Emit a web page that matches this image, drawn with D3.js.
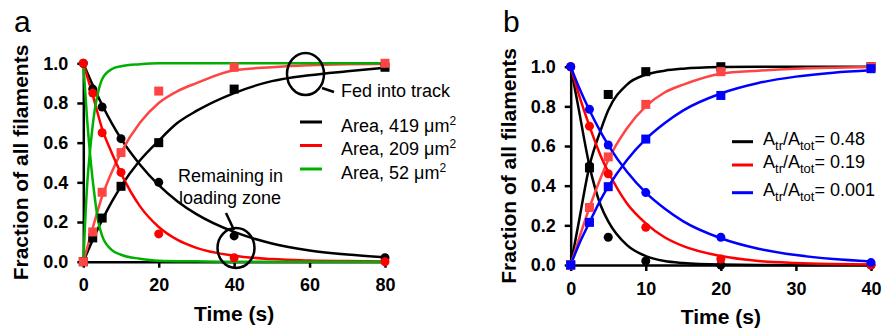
<!DOCTYPE html>
<html>
<head>
<meta charset="utf-8">
<script src="https://cdn.jsdelivr.net/npm/d3@7"></script>
<style>
  body { margin: 0; background: #fff; }
  svg { display: block; font-family: Arial, "Liberation Sans", sans-serif; }
  .axis path, .axis line { stroke: #000; stroke-width: 2.5px; }
  .axis text { font-size: 18px; font-weight: bold; fill: #000; }
</style>
</head>
<body>
<div id="chart"></div>
<script>
// panel a: measured points
const timeA = [0, 2.5, 5, 10, 20, 40, 80];
const remain419 = [1.0, 0.87, 0.78, 0.62, 0.40, 0.13, 0.02];
const fed419 = [0, 0.12, 0.22, 0.38, 0.60, 0.87, 0.98];
const remain209 = [1.0, 0.85, 0.65, 0.45, 0.14, 0.02, 0.0];
const fed209 = [0, 0.15, 0.35, 0.55, 0.86, 0.98, 1.0];

// panel a: fitted curves
const fitTimeA = [0, 2.5, 5, 7.5, 10, 15, 20, 25, 30, 40, 50, 60, 70, 80];
const fitRemain419 = [1, 0.89, 0.79, 0.70, 0.62, 0.49, 0.386, 0.304, 0.24, 0.15, 0.092, 0.057, 0.036, 0.022];
const fitFed419 = [0, 0.11, 0.21, 0.30, 0.38, 0.51, 0.61, 0.70, 0.76, 0.85, 0.91, 0.94, 0.96, 0.978];
const fitRemain209 = [1, 0.84, 0.67, 0.55, 0.445, 0.28, 0.175, 0.11, 0.07, 0.03, 0.013, 0.006, 0.003, 0.001];
const fitFed209 = [0, 0.17, 0.33, 0.45, 0.55, 0.70, 0.80, 0.86, 0.90, 0.965, 0.98, 0.99, 0.995, 0.997];
const fitTimeGreen = [0, 1, 2, 3, 4, 5, 7.5, 10, 15, 20, 30, 40, 80];
const fitRemain52 = [1, 0.72, 0.50, 0.33, 0.20, 0.13, 0.06, 0.035, 0.015, 0.005, 0.002, 0, 0];
const fitFed52 = [0, 0.38, 0.60, 0.76, 0.86, 0.92, 0.97, 0.985, 0.995, 1, 1, 1, 1];

// panel b: measured points
const timeB = [0, 2.5, 5, 10, 20, 40];
const remain048 = [1, 0.50, 0.14, 0.02, 0.0, 0.0];
const fed048 = [0, 0.49, 0.86, 0.975, 1.0, 1.0];
const remain019 = [1, 0.70, 0.46, 0.19, 0.03, 0.0];
const fed019 = [0, 0.29, 0.545, 0.81, 0.975, 1.0];
const remain0001 = [1, 0.785, 0.605, 0.365, 0.14, 0.012];
const fed0001 = [0, 0.215, 0.395, 0.635, 0.855, 0.99];

// panel b: fitted curves
const fitTimeB = [0, 1, 2.5, 4, 5, 7.5, 10, 12.5, 15, 20, 25, 30, 35, 40];
const fitRemain048 = [1, 0.80, 0.50, 0.30, 0.22, 0.10, 0.045, 0.02, 0.01, 0.002, 0, 0, 0, 0];
const fitFed048 = [0, 0.20, 0.50, 0.68, 0.78, 0.91, 0.96, 0.98, 0.99, 0.998, 1, 1, 1, 1];
const fitRemain019 = [1, 0.87, 0.70, 0.55, 0.47, 0.31, 0.21, 0.14, 0.095, 0.045, 0.02, 0.01, 0.005, 0.002];
const fitFed019 = [0, 0.12, 0.29, 0.44, 0.53, 0.69, 0.80, 0.87, 0.91, 0.965, 0.98, 0.99, 0.995, 0.998];
const fitRemain0001 = [1, 0.905, 0.78, 0.67, 0.605, 0.47, 0.365, 0.285, 0.22, 0.135, 0.082, 0.05, 0.03, 0.018];
const fitFed0001 = [0, 0.095, 0.215, 0.33, 0.395, 0.53, 0.635, 0.715, 0.78, 0.865, 0.918, 0.95, 0.97, 0.982];

const yTicks = [0, 0.2, 0.4, 0.6, 0.8, 1.0];

const black = '#000', red = '#ff0000', lightRed = '#ff4444', green = '#00b000', blue = '#0000ff';

const svg = d3.select('#chart').append('svg')
  .attr('width', 882)
  .attr('height', 328);

function zip(xs, ys) { return xs.map((t, i) => [t, ys[i]]); }

function drawPanel(opt) {
  const x = d3.scaleLinear().domain([0, opt.xMax]).range(opt.xRange);
  const y = d3.scaleLinear().domain([0, 1]).range(opt.yRange);

  svg.append('g')
    .attr('class', 'axis')
    .attr('transform', `translate(0, ${opt.yRange[0]})`)
    .call(d3.axisBottom(x).tickValues(opt.xTicks).tickSize(6).tickSizeOuter(0).tickPadding(11));

  svg.append('g')
    .attr('class', 'axis')
    .attr('transform', `translate(${opt.xRange[0]}, 0)`)
    .call(d3.axisLeft(y).tickValues(yTicks).tickFormat(d3.format('.1f')).tickSize(6).tickSizeOuter(0).tickPadding(9));

  const line = d3.line()
    .x(d => x(d[0]))
    .y(d => y(d[1]))
    .curve(d3.curveMonotoneX);

  // fitted curves first
  opt.curves.forEach(c => {
    svg.append('path')
      .datum(zip(c.t, c.v))
      .attr('fill', 'none')
      .attr('stroke', c.color)
      .attr('stroke-width', 2.5)
      .attr('d', line);
  });

  // then the measured points
  opt.points.forEach(p => {
    const pts = zip(opt.time, p.v);
    if (p.shape === 'square') {
      svg.selectAll(null)
        .data(pts)
        .enter()
        .append('rect')
        .attr('x', d => x(d[0]) - 4.5)
        .attr('y', d => y(d[1]) - 4.5)
        .attr('width', 9)
        .attr('height', 9)
        .attr('fill', p.color);
    } else {
      svg.selectAll(null)
        .data(pts)
        .enter()
        .append('circle')
        .attr('cx', d => x(d[0]))
        .attr('cy', d => y(d[1]))
        .attr('r', 4.5)
        .attr('fill', p.color);
    }
  });

  // axis titles
  const midY = (opt.yRange[0] + opt.yRange[1]) / 2;
  svg.append('text')
    .attr('transform', `translate(${opt.yTitleX}, ${midY}) rotate(-90)`)
    .attr('text-anchor', 'middle')
    .style('font-size', '21px')
    .style('font-weight', 'bold')
    .text('Fraction of all filaments');

  svg.append('text')
    .attr('x', (opt.xRange[0] + opt.xRange[1]) / 2)
    .attr('y', opt.xTitleY)
    .attr('text-anchor', 'middle')
    .style('font-size', '21px')
    .style('font-weight', 'bold')
    .text('Time (s)');

  svg.append('text')
    .attr('x', opt.letterX)
    .attr('y', 32)
    .style('font-size', '30px')
    .text(opt.letter);

  return { x, y };
}

drawPanel({
  letter: 'a', letterX: 14,
  xMax: 80, xRange: [83.3, 385], yRange: [261.7, 63.3],
  xTicks: [0, 20, 40, 60, 80],
  yTitleX: 28, xTitleY: 321,
  time: timeA,
  curves: [
    { t: fitTimeA, v: fitRemain419, color: black },
    { t: fitTimeA, v: fitFed419, color: black },
    { t: fitTimeA, v: fitFed209, color: lightRed },
    { t: fitTimeA, v: fitRemain209, color: red },
    { t: fitTimeGreen, v: fitRemain52, color: green },
    { t: fitTimeGreen, v: fitFed52, color: green }
  ],
  points: [
    { v: remain419, color: black, shape: 'circle' },
    { v: fed419, color: black, shape: 'square' },
    { v: fed209, color: lightRed, shape: 'square' },
    { v: remain209, color: red, shape: 'circle' }
  ]
});

drawPanel({
  letter: 'b', letterX: 503,
  xMax: 40, xRange: [570.7, 871], yRange: [265, 66.7],
  xTicks: [0, 10, 20, 30, 40],
  yTitleX: 516, xTitleY: 324,
  time: timeB,
  curves: [
    { t: fitTimeB, v: fitRemain048, color: black },
    { t: fitTimeB, v: fitFed048, color: black },
    { t: fitTimeB, v: fitFed019, color: lightRed },
    { t: fitTimeB, v: fitRemain019, color: red },
    { t: fitTimeB, v: fitRemain0001, color: blue },
    { t: fitTimeB, v: fitFed0001, color: blue }
  ],
  points: [
    { v: remain048, color: black, shape: 'circle' },
    { v: fed048, color: black, shape: 'square' },
    { v: fed019, color: lightRed, shape: 'square' },
    { v: remain019, color: red, shape: 'circle' },
    { v: remain0001, color: blue, shape: 'circle' },
    { v: fed0001, color: blue, shape: 'square' }
  ]
});

// legend a
const legendA = [
  { label: 'Area, 419 \u03bcm', color: black },
  { label: 'Area, 209 \u03bcm', color: red },
  { label: 'Area, 52 \u03bcm', color: green }
];
legendA.forEach((d, i) => {
  const ly = 122 + i * 23.5;
  svg.append('line')
    .attr('x1', 300).attr('x2', 322)
    .attr('y1', ly).attr('y2', ly)
    .attr('stroke', d.color).attr('stroke-width', 3);
  const t = svg.append('text')
    .attr('x', 341).attr('y', ly + 9.5)
    .style('font-size', '18px');
  t.append('tspan').text(d.label);
  t.append('tspan').attr('dy', -7).style('font-size', '12px').text('2');
});

// legend b
const legendB = [
  { value: '0.48', color: black, y: 141.7 },
  { value: '0.19', color: red, y: 165 },
  { value: '0.001', color: blue, y: 192.7 }
];
legendB.forEach(d => {
  svg.append('line')
    .attr('x1', 732).attr('x2', 753)
    .attr('y1', d.y).attr('y2', d.y)
    .attr('stroke', d.color).attr('stroke-width', 3);
  const t = svg.append('text')
    .attr('x', 763).attr('y', d.y + 3)
    .style('font-size', '18px');
  t.append('tspan').text('A');
  t.append('tspan').attr('dy', 5).style('font-size', '13px').text('tr');
  t.append('tspan').attr('dy', -5).text('/A');
  t.append('tspan').attr('dy', 5).style('font-size', '13px').text('tot');
  t.append('tspan').attr('dy', -5).text('= ' + d.value);
});

// annotations in panel a
svg.append('ellipse')
  .attr('cx', 305.5).attr('cy', 74).attr('rx', 18.5).attr('ry', 21)
  .attr('fill', 'none').attr('stroke', black).attr('stroke-width', 2.5);
svg.append('line')
  .attr('x1', 322).attr('y1', 88).attr('x2', 334).attr('y2', 92)
  .attr('stroke', black).attr('stroke-width', 2.5);
svg.append('text')
  .attr('x', 341).attr('y', 97)
  .style('font-size', '18px')
  .text('Fed into track');

svg.append('ellipse')
  .attr('cx', 236).attr('cy', 248).attr('rx', 18.5).attr('ry', 20)
  .attr('fill', 'none').attr('stroke', black).attr('stroke-width', 2.5);
svg.append('line')
  .attr('x1', 226).attr('y1', 213).attr('x2', 234).attr('y2', 230)
  .attr('stroke', black).attr('stroke-width', 2.5);
svg.append('text')
  .attr('x', 178).attr('y', 182)
  .style('font-size', '18px')
  .text('Remaining in');
svg.append('text')
  .attr('x', 179).attr('y', 204)
  .style('font-size', '18px')
  .text('loading zone');
</script>
</body>
</html>
